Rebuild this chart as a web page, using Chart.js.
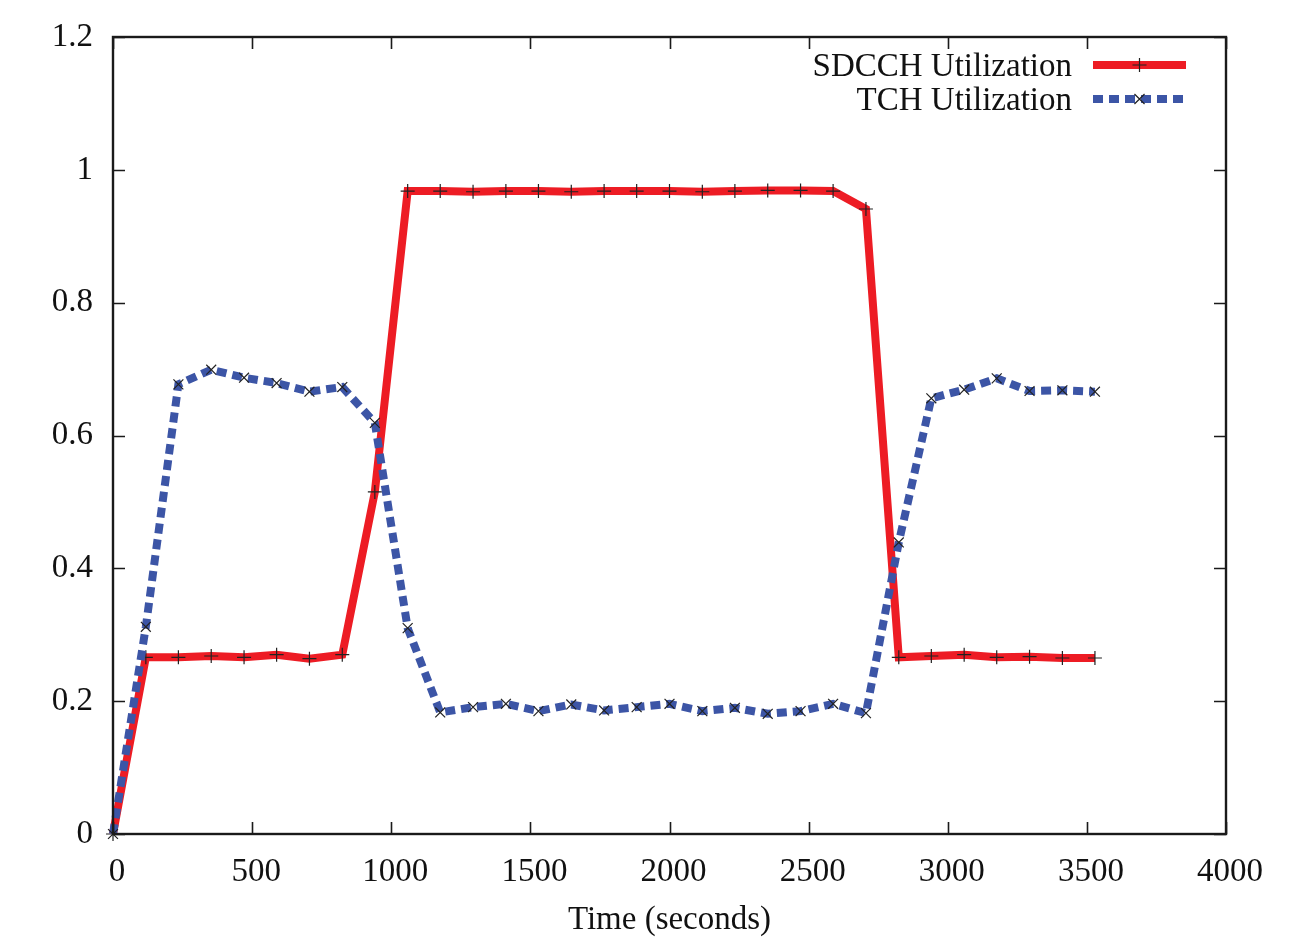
<!DOCTYPE html>
<html>
<head>
<meta charset="utf-8">
<script src="https://cdn.jsdelivr.net/npm/chart.js@4"></script>
<style>
  html, body { margin: 0; padding: 0; background: #fff; }
  #wrap { width: 1300px; height: 942px; }
</style>
</head>
<body>
<div id="wrap"><canvas id="c" width="1300" height="942"></canvas></div>
<script>
// Sample times (seconds)
const times = [0, 118, 235, 353, 471, 588, 706, 824, 941, 1059, 1176, 1294, 1412, 1529, 1647,
  1765, 1882, 2000, 2118, 2235, 2353, 2471, 2588, 2706, 2824, 2941, 3059, 3176, 3294, 3412, 3529];

// Channel utilization per sample
const sdcchUtil = [0, 0.266, 0.266, 0.268, 0.266, 0.270, 0.264, 0.270, 0.515,
  0.968, 0.968, 0.967, 0.968, 0.968, 0.967, 0.968, 0.968, 0.968, 0.967, 0.968, 0.969, 0.969, 0.968,
  0.941, 0.266, 0.268, 0.270, 0.266, 0.267, 0.265, 0.265];
const tchUtil = [0, 0.312, 0.677, 0.699, 0.687, 0.679, 0.666, 0.673, 0.619, 0.310,
  0.183, 0.191, 0.196, 0.185, 0.195, 0.186, 0.191, 0.196, 0.185, 0.190, 0.181, 0.185, 0.196, 0.182,
  0.439, 0.656, 0.669, 0.686, 0.667, 0.668, 0.666];

const seriesNames = ['SDCCH Utilization', 'TCH Utilization'];
const xTickLabels = ['0', '500', '1000', '1500', '2000', '2500', '3000', '3500', '4000'];
const yTickLabels = ['0', '0.2', '0.4', '0.6', '0.8', '1', '1.2'];
const xTitle = 'Time (seconds)';

const FONT = '"Liberation Serif", "Times New Roman", serif';
const FONT_SIZE = 33;
const RED = '#ed1c24';
const BLUE = '#3c55a6';

const toPoints = (ys) => ys.map((y, i) => ({ x: times[i], y }));

// Frame with inward ticks on all four sides, plus the key in the top-right corner
const framePlugin = {
  id: 'frame',
  afterDraw(chart) {
    const { ctx, chartArea: a, scales } = chart;
    const xs = scales.x, ys = scales.y;
    const tl = 12;
    ctx.save();
    ctx.strokeStyle = '#1a1a1a';
    ctx.lineWidth = 1.6;
    ctx.beginPath();
    xs.ticks.forEach(t => {
      const px = Math.round(xs.getPixelForValue(t.value)) + 0.5;
      ctx.moveTo(px, a.bottom); ctx.lineTo(px, a.bottom - tl);
      ctx.moveTo(px, a.top); ctx.lineTo(px, a.top + tl);
    });
    ys.ticks.forEach(t => {
      const py = Math.round(ys.getPixelForValue(t.value)) + 0.5;
      ctx.moveTo(a.left, py); ctx.lineTo(a.left + tl, py);
      ctx.moveTo(a.right, py); ctx.lineTo(a.right - tl, py);
    });
    ctx.stroke();
    ctx.lineWidth = 2.4;
    ctx.strokeRect(a.left, a.top, a.right - a.left, a.bottom - a.top);

    // key
    const textRight = a.right - 154;
    const lineL = a.right - 133, lineR = a.right - 40;
    const rowY = [a.top + 28, a.top + 62];
    ctx.font = FONT_SIZE + 'px ' + FONT;
    ctx.textAlign = 'right';
    ctx.textBaseline = 'middle';
    chart.data.datasets.forEach((ds, i) => {
      const y = rowY[i];
      ctx.fillStyle = '#111';
      ctx.fillText(ds.label, textRight, y + 2);
      ctx.save();
      ctx.strokeStyle = ds.borderColor;
      ctx.lineWidth = ds.borderWidth;
      ctx.lineCap = 'butt';
      ctx.setLineDash(ds.borderDash || []);
      ctx.beginPath();
      ctx.moveTo(lineL, y); ctx.lineTo(lineR, y);
      ctx.stroke();
      ctx.restore();
      // marker in the middle of the sample
      const cx = (lineL + lineR) / 2;
      const r = 7;
      ctx.strokeStyle = '#222';
      ctx.lineWidth = 1.2;
      ctx.beginPath();
      if (ds.pointStyle === 'cross') {
        ctx.moveTo(cx - r, y); ctx.lineTo(cx + r, y);
        ctx.moveTo(cx, y - r); ctx.lineTo(cx, y + r);
      } else {
        const d = r * 0.72;
        ctx.moveTo(cx - d, y - d); ctx.lineTo(cx + d, y + d);
        ctx.moveTo(cx - d, y + d); ctx.lineTo(cx + d, y - d);
      }
      ctx.stroke();
    });
    ctx.restore();
  }
};

new Chart(document.getElementById('c'), {
  type: 'line',
  data: {
    datasets: [
      {
        label: seriesNames[0],
        data: toPoints(sdcchUtil),
        borderColor: RED,
        backgroundColor: RED,
        borderWidth: 8,
        borderJoinStyle: 'miter',
        pointStyle: 'cross',
        pointRadius: 7,
        pointBorderColor: '#222',
        pointBorderWidth: 1.2,
        pointHoverRadius: 7,
        tension: 0,
        order: 1
      },
      {
        label: seriesNames[1],
        data: toPoints(tchUtil),
        borderColor: BLUE,
        backgroundColor: BLUE,
        borderWidth: 8,
        borderDash: [10, 6],
        borderCapStyle: 'butt',
        pointStyle: 'crossRot',
        pointRadius: 7,
        pointBorderColor: '#222',
        pointBorderWidth: 1.2,
        pointHoverRadius: 7,
        tension: 0,
        order: 0
      }
    ]
  },
  options: {
    responsive: false,
    animation: false,
    clip: false,
    layout: { padding: { top: 37, right: 74, left: 0, bottom: 0 } },
    plugins: { legend: { display: false }, tooltip: { enabled: false } },
    scales: {
      x: {
        type: 'linear',
        min: 0, max: 4000,
        grid: { display: false, drawTicks: false },
        border: { display: false },
        ticks: {
          stepSize: 500,
          padding: 19,
          labelOffset: 4,
          color: '#111',
          font: { family: FONT, size: FONT_SIZE },
          maxRotation: 0,
          callback: (v) => xTickLabels[Math.round(v / 500)]
        },
        title: {
          display: true,
          text: xTitle,
          color: '#111',
          font: { family: FONT, size: FONT_SIZE },
          padding: { top: 10, bottom: 2 }
        },
        afterFit: (s) => { s.height = 108; }
      },
      y: {
        type: 'linear',
        min: 0, max: 1.2,
        grid: { display: false, drawTicks: false },
        border: { display: false },
        ticks: {
          stepSize: 0.2,
          padding: 20,
          color: '#111',
          font: { family: FONT, size: FONT_SIZE, lineHeight: 1 },
          callback: (v) => yTickLabels[Math.round(v / 0.2)]
        },
        afterFit: (s) => { s.width = 113; }
      }
    }
  },
  plugins: [framePlugin]
});
</script>
</body>
</html>
